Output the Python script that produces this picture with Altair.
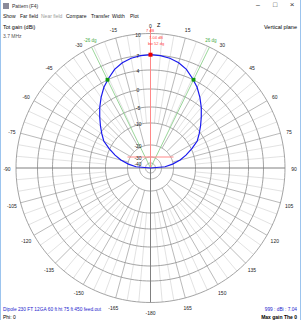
import altair as alt
import pandas as pd
import numpy as np

# ---------------- data ----------------
ring_labels = [10, 7, 4, 0, -5, -10, -20, -30, -40]          # dBi
angle_labels = [0, 15, 30, 45, 60, 75, 90, 105, 120, 135, 150, 165, -180,
                -165, -150, -135, -120, -105, -90, -75, -60, -45, -30, -15]
pat_theta = [-90, -85, -80, -75, -70, -65, -60, -55, -50, -45, -40, -35, -30, -25, -20, -15, -10, -5,
             0, 5, 10, 15, 20, 25, 30, 35, 40, 45, 50, 55, 60, 65, 70, 75, 80, 85, 90]
pat_gain = [-99, -27, -20.5, -16.5, -13.3, -9.8, -7.2, -5.5, -3.8, -2.0, 0.0, 1.5, 3.0, 4.2, 5.4, 6.2, 6.7, 6.95,
            7.04, 6.95, 6.7, 6.2, 5.4, 4.2, 3.0, 1.5, 0.0, -2.0, -3.8, -5.5, -7.2, -9.8, -13.3, -16.5, -20.5, -27, -99]
bw_theta = [-26, 26]
bw_gain = [4.04, 4.04]
bw_text = ["-26 dg", "26 dg"]
max_theta = [0]
max_gain = [7.04]

# radial scale of the plot (log-like, as drawn): ring value -> radius in px
R = 134.5
RING_R = [134.5, 113, 98, 79, 61, 45, 23, 11, 5]

def rad(g):
    g = np.asarray(g, dtype=float)
    xp = np.array(ring_labels[::-1], dtype=float)
    fp = np.array(RING_R[::-1], dtype=float)
    r = np.interp(g, np.concatenate([[-60.0], xp]), np.concatenate([[0.0], fp]))
    return np.where(g < -90, 0.0, r)

rows = []
for lab in ring_labels:
    r = float(rad([lab])[0])
    for k, a in enumerate(np.arange(0, 361, 2)):
        t = np.radians(a)
        rows.append(dict(ring=lab, k=k, x=r * np.sin(t), y=r * np.cos(t)))
rings = pd.DataFrame(rows)

sp = []
for a in range(0, 360, 5):
    t = np.radians(a)
    if a % 90 == 0:
        r0, kind = 0.0, "axis"
    elif a % 15 == 0:
        r0, kind = float(rad([-20])[0]), "major"
    else:
        r0, kind = float(rad([-10])[0]), "minor"
    sp.append(dict(kind=kind, x=r0 * np.sin(t), y=r0 * np.cos(t), x2=R * np.sin(t), y2=R * np.cos(t)))
spokes = pd.DataFrame(sp)

al = []
for a in angle_labels:
    t = np.radians(a)
    rr = R + 9
    al.append(dict(txt=str(a), x=rr * np.sin(t), y=rr * np.cos(t) - 1))
alabels = pd.DataFrame(al)

rl = pd.DataFrame(dict(txt=[str(v) for v in ring_labels], x=-12.5, y=rad(ring_labels) - 1))

pr = rad(pat_gain)
pt = np.radians(pat_theta)
pattern = pd.DataFrame(dict(k=range(len(pat_theta)), x=pr * np.sin(pt), y=pr * np.cos(pt)))

bt = np.radians(bw_theta)
br = rad(bw_gain)
bwpts = pd.DataFrame(dict(x=br * np.sin(bt), y=br * np.cos(bt)))
bwlines = pd.DataFrame(dict(x=0.0, y=0.0, x2=R * np.sin(bt), y2=R * np.cos(bt)))
bwtext = pd.DataFrame(dict(txt=bw_text, x=(R + 3) * np.sin(bt), y=(R + 3) * np.cos(bt)))
mr = rad(max_gain)
maxpt = pd.DataFrame(dict(x=mr * np.sin(np.radians(max_theta)), y=mr * np.cos(np.radians(max_theta))))

X = alt.Scale(domain=[-150.5, 150.5], range=[0, 301], nice=False, zero=False)
Y = alt.Scale(domain=[-152, 168], range=[320, 0], nice=False, zero=False)
FONT = "Liberation Sans"

def pos():
    return dict(x=alt.X("x:Q", scale=X, axis=None), y=alt.Y("y:Q", scale=Y, axis=None))

minor = alt.Chart(spokes).transform_filter("datum.kind=='minor'").mark_rule(color="#dadada", strokeWidth=0.8).encode(
    **pos(), x2="x2", y2="y2")
major = alt.Chart(spokes).transform_filter("datum.kind=='major'").mark_rule(color="#a8a8a8", strokeWidth=0.8).encode(
    **pos(), x2="x2", y2="y2")
axes = alt.Chart(spokes).transform_filter("datum.kind=='axis'").mark_rule(color="#808080", strokeWidth=1).encode(
    **pos(), x2="x2", y2="y2")
ringl = alt.Chart(rings).mark_line(color="#999999", strokeWidth=0.9).encode(
    **pos(), detail="ring:N", order="k:Q")
angt = alt.Chart(alabels).mark_text(fontSize=5, font=FONT, color="#222222").encode(**pos(), text="txt:N")
ringt = alt.Chart(rl).mark_text(fontSize=5, font=FONT, color="#222222").encode(**pos(), text="txt:N")
bwl = alt.Chart(bwlines).mark_rule(color="#80cc80", strokeWidth=0.8).encode(**pos(), x2="x2", y2="y2")
bwt = alt.Chart(bwtext).mark_text(fontSize=4.5, font=FONT, color="#44aa44", dy=-3).encode(**pos(), text="txt:N")
pat = alt.Chart(pattern).mark_line(color="#1a1aee", strokeWidth=1.2).encode(**pos(), order="k:Q")
bwp = alt.Chart(bwpts).mark_square(color="#119911", size=14, opacity=1).encode(**pos())
mxp = alt.Chart(maxpt).mark_square(color="#ee0000", size=16, opacity=1).encode(**pos())
redv = alt.Chart(pd.DataFrame(dict(x=[0.0], y=[0.0], y2=[R + 6]))).mark_rule(color="#ff8888", strokeWidth=1).encode(
    **pos(), y2="y2")
redh = alt.Chart(pd.DataFrame(dict(x=[-23.0], x2=[23.0], y=[11.0]))).mark_rule(color="#ff8888", strokeWidth=1).encode(
    **pos(), x2="x2")

def txt(s, x, y, size=5, color="#000000", align="left", weight="normal"):
    return alt.Chart(pd.DataFrame(dict(t=[s]))).mark_text(
        fontSize=size, font=FONT, color=color, align=align, baseline="middle", fontWeight=weight
    ).encode(x=alt.value(x), y=alt.value(y), text="t:N")

menu = [("Show", 3, "#111111"), ("Far field", 20, "#111111"), ("Near field", 41, "#9a9a9a"),
        ("Compare", 66, "#111111"), ("Transfer", 91, "#111111"), ("Width", 112, "#111111"), ("Plot", 130, "#111111")]
texts = [txt("Pattern", 12, 6, 5, "#333333"), txt("(F4)", 29, 6, 5, "#333333")]
texts += [txt(m, x, 16, 5, c) for m, x, c in menu]
texts += [
    txt("Tot gain (dBi)", 3, 27, 5.5, "#000000"),
    txt("Vertical plane", 297, 27, 5.5, "#000000", "right"),
    txt("3.7 MHz", 3, 36, 5, "#555555"),
    txt("Dipole 230 FT 12GA 60 ft ht 75 ft 450 feed.out", 3, 310, 4.8, "#2222cc"),
    txt("Phi: 0", 3, 317, 5, "#000000"),
    txt("999 : dBi : 7.04", 297, 310, 4.8, "#2222cc", "right"),
    txt("Max gain The 0", 297, 317, 5, "#000000", "right", "bold"),
    txt("Z", 157, 25, 5.5, "#000000"),
    txt("7 dB", 150, 31, 4, "#ff4444", "center"),
    txt("7.04 dB", 156, 38, 4, "#ff4444", "center"),
    txt("bw 52 dg", 156, 44, 4, "#ff4444", "center"),
    txt("\u2013", 258, 5, 7, "#333333", "center"),
    txt("\u25a1", 275, 5, 7, "#333333", "center"),
    txt("\u00d7", 292, 5, 8, "#333333", "center"),
]
icon = alt.Chart(pd.DataFrame(dict(t=[1]))).mark_rect(color="#8a8a9a").encode(
    x=alt.value(3), x2=alt.value(9), y=alt.value(3), y2=alt.value(9))
frame = alt.Chart(pd.DataFrame(dict(t=[1]))).mark_rule(color="#9cc4ee", strokeWidth=1).encode(
    x=alt.value(0.5), y=alt.value(0), y2=alt.value(320))
frame2 = alt.Chart(pd.DataFrame(dict(t=[1]))).mark_rule(color="#9cc4ee", strokeWidth=1).encode(
    x=alt.value(300.5), y=alt.value(0), y2=alt.value(320))

chart = alt.layer(minor, major, ringl, axes, bwl, redv, redh, pat, bwp, mxp, angt, ringt, bwt,
                  icon, frame, frame2, *texts).properties(
    width=301, height=320, padding=0, autosize=alt.AutoSizeParams(type="none"),
    background="white"
).configure_view(stroke=None)

chart.save("out.html", embed_options={"renderer": "svg", "actions": False})
